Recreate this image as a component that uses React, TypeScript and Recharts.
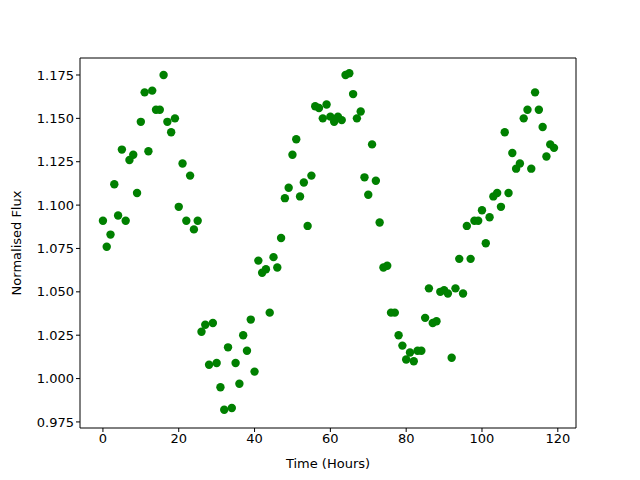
import { ScatterChart, Scatter, XAxis, YAxis } from 'recharts'

// hourly normalised flux readings
const HOURS = Array.from({ length: 120 }, (_, i) => i)
const FLUX = [
  1.091, 1.076, 1.083, 1.112, 1.094, 1.132, 1.091, 1.126, 1.129, 1.107,
  1.148, 1.165, 1.131, 1.166, 1.155, 1.155, 1.175, 1.148, 1.142, 1.150,
  1.099, 1.124, 1.091, 1.117, 1.086, 1.091, 1.027, 1.031, 1.008, 1.032,
  1.009, 0.995, 0.982, 1.018, 0.983, 1.009, 0.997, 1.025, 1.016, 1.034,
  1.004, 1.068, 1.061, 1.063, 1.038, 1.070, 1.064, 1.081, 1.104, 1.110,
  1.129, 1.138, 1.105, 1.113, 1.088, 1.117, 1.157, 1.156, 1.150, 1.158,
  1.151, 1.148, 1.151, 1.149, 1.175, 1.176, 1.164, 1.150, 1.154, 1.116,
  1.106, 1.135, 1.114, 1.090, 1.064, 1.065, 1.038, 1.038, 1.025, 1.019,
  1.011, 1.015, 1.010, 1.016, 1.016, 1.035, 1.052, 1.032, 1.033, 1.050,
  1.051, 1.049, 1.012, 1.052, 1.069, 1.049, 1.088, 1.069, 1.091, 1.091,
  1.097, 1.078, 1.093, 1.105, 1.107, 1.099, 1.142, 1.107, 1.130, 1.121,
  1.124, 1.150, 1.155, 1.121, 1.165, 1.155, 1.145, 1.128, 1.135, 1.133,
]
const X_TICKS = [0, 20, 40, 60, 80, 100, 120]
const Y_TICKS = [0.975, 1.0, 1.025, 1.05, 1.075, 1.1, 1.125, 1.15, 1.175]

const data = HOURS.map((h, i) => ({ hour: h, flux: FLUX[i] }))

const FONT = '"DejaVu Sans", sans-serif'
const X_DOMAIN = [-6.05, 124.8]
const Y_DOMAIN = [0.9715, 1.1848]

const dot = (p: any) => <circle cx={p.cx} cy={p.cy} r={4.2} fill="#008000" />

export default function App() {
  const tick = { fill: '#000', fontSize: 13, fontFamily: FONT }
  const line = { stroke: '#000', strokeWidth: 1 }
  return (
    <div style={{ position: 'absolute', left: 0, top: 0, width: 640, height: 480, background: '#fff' }}>
      <ScatterChart width={640} height={480} margin={{ top: 57, right: 63, bottom: 0, left: 20 }}>
        <XAxis
          type="number" dataKey="hour" domain={X_DOMAIN} ticks={X_TICKS} allowDataOverflow
          tick={tick} tickLine={line} axisLine={line} tickSize={4} height={52}
          label={{ value: 'Time (Hours)', position: 'insideBottom', offset: 12, fill: '#000', fontSize: 13, fontFamily: FONT }}
        />
        <XAxis xAxisId="top" orientation="top" type="number" domain={X_DOMAIN} allowDataOverflow tick={false} tickLine={false} axisLine={line} height={1} />
        <YAxis
          type="number" dataKey="flux" domain={Y_DOMAIN} ticks={Y_TICKS} allowDataOverflow
          tick={tick} tickLine={line} axisLine={line} tickSize={4} width={60}
          tickFormatter={(v: number) => v.toFixed(3)}
          label={{ value: 'Normalised Flux', angle: -90, position: 'insideLeft', offset: -4, fill: '#000', fontSize: 13, fontFamily: FONT, style: { textAnchor: 'middle' } }}
        />
        <YAxis yAxisId="right" orientation="right" type="number" domain={Y_DOMAIN} allowDataOverflow tick={false} tickLine={false} axisLine={line} width={1} />
        <Scatter data={data} shape={dot} isAnimationActive={false} />
      </ScatterChart>
    </div>
  )
}
